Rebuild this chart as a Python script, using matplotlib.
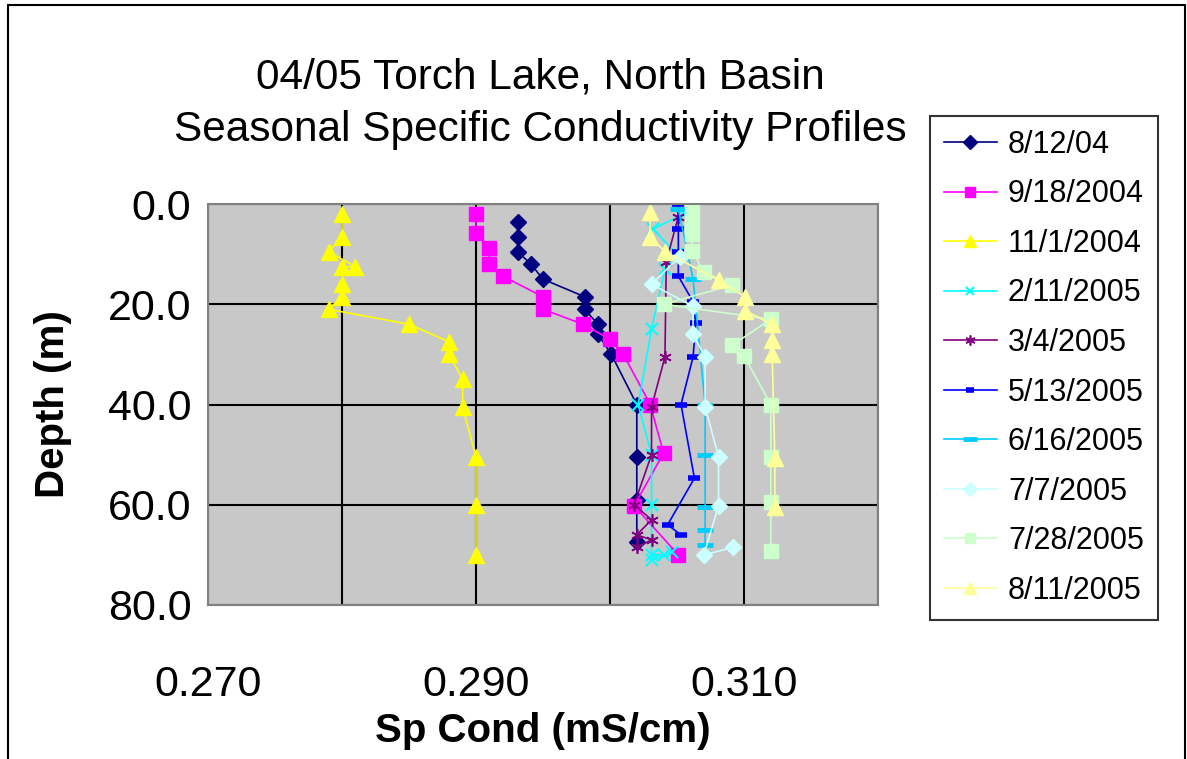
import matplotlib
matplotlib.use("Agg")
import matplotlib.pyplot as plt
from matplotlib.patches import Rectangle

plt.rcParams['font.family'] = ['Liberation Sans', 'DejaVu Sans']

# seasonal profiles: depth (m) and specific conductivity (mS/cm)
labels = ['8/12/04', '9/18/2004', '11/1/2004', '2/11/2005', '3/4/2005',
          '5/13/2005', '6/16/2005', '7/7/2005', '7/28/2005', '8/11/2005']

depth_0812 = [3.5, 6.5, 9.5, 12, 15, 18.5, 21, 24, 26, 30, 40, 50.5, 59, 67.5]
cond_0812 = [0.2931, 0.2931, 0.2931, 0.2941, 0.2950, 0.2981, 0.2981, 0.2991,
             0.2991, 0.3001, 0.3020, 0.3020, 0.3020, 0.3020]

depth_0918 = [2, 5.7, 8.7, 12, 14.4, 18.5, 21, 24, 27, 30, 40, 49.7, 60.2, 70]
cond_0918 = [0.2900, 0.2900, 0.2910, 0.2910, 0.2920, 0.2950, 0.2950, 0.2980,
             0.3000, 0.3010, 0.3030, 0.3040, 0.3018, 0.3051]

depth_1101 = [2, 6.5, 9.5, 12.5, 12.5, 16, 18.5, 21, 24, 27.5, 30, 35, 40.5, 50.5, 60, 70]
cond_1101 = [0.2800, 0.2800, 0.2790, 0.2810, 0.2800, 0.2800, 0.2800, 0.2790,
             0.2850, 0.2880, 0.2880, 0.2890, 0.2890, 0.2900, 0.2900, 0.2900]

depth_0211 = [2, 5, 10, 13, 25, 40, 50, 60, 70, 70, 69.5, 71]
cond_0211 = [0.3055, 0.3032, 0.3050, 0.3041, 0.3031, 0.3021, 0.3031, 0.3031,
             0.3031, 0.3040, 0.3046, 0.3031]

depth_0304 = [2.5, 11.5, 30.5, 40.5, 50, 60, 63, 66, 67, 68.5]
cond_0304 = [0.3051, 0.3042, 0.3041, 0.3031, 0.3031, 0.3018, 0.3031, 0.3020,
             0.3031, 0.3020]

depth_0513 = [0, 5, 9.5, 14.4, 19.5, 23.7, 30.5, 40, 54.7, 64, 66]
cond_0513 = [0.3051, 0.3051, 0.3051, 0.3051, 0.3062, 0.3064, 0.3062, 0.3053,
             0.3063, 0.3043, 0.3053]

depth_0616 = [1, 15, 40, 50, 60.4, 65, 68]
cond_0616 = [0.3051, 0.3062, 0.3071, 0.3071, 0.3071, 0.3071, 0.3071]

depth_0707 = [10.5, 16, 20.4, 26, 30.5, 40.5, 50.4, 60.2, 70, 68.5]
cond_0707 = [0.3052, 0.3031, 0.3062, 0.3062, 0.3071, 0.3071, 0.3081, 0.3081,
             0.3070, 0.3092]

depth_0728 = [0.7, 3.5, 6, 9.3, 13.5, 16.2, 20, 23, 28.2, 30.3, 40, 50.5, 59.5, 69.2]
cond_0728 = [0.3061, 0.3061, 0.3061, 0.3061, 0.3070, 0.3091, 0.3040, 0.3120,
             0.3091, 0.3100, 0.3120, 0.3120, 0.3120, 0.3120]

depth_0811 = [1.5, 6.5, 9.5, 15.2, 18.5, 21.3, 24, 27.2, 30, 50.7, 60.4]
cond_0811 = [0.3030, 0.3030, 0.3041, 0.3081, 0.3101, 0.3101, 0.3121, 0.3121,
             0.3121, 0.3123, 0.3123]

xticks = [0.27, 0.28, 0.29, 0.30, 0.31, 0.32]
xtick_labels = ['0.270', '', '0.290', '', '0.310', '']
yticks = [0, 20, 40, 60, 80]

series = [
    (cond_0812, depth_0812, '#000080', dict(marker='D', ms=8.5)),
    (cond_0918, depth_0918, '#FF00FF', dict(marker='s', ms=9.5)),
    (cond_1101, depth_1101, '#FFFF00', dict(marker='^', ms=11)),
    (cond_0211, depth_0211, '#00FFFF', dict(marker='x', ms=8, mew=1.5)),
    (cond_0304, depth_0304, '#800080', dict(marker=(6, 2, 0), ms=9, mew=1.2)),
    (cond_0513, depth_0513, '#0000FF', dict(marker='_', ms=8, mew=4)),
    (cond_0616, depth_0616, '#00CCFF', dict(marker='_', ms=12, mew=3.5)),
    (cond_0707, depth_0707, '#CCFFFF', dict(marker='D', ms=8.5)),
    (cond_0728, depth_0728, '#CCFFCC', dict(marker='s', ms=9.5)),
    (cond_0811, depth_0811, '#FFFF99', dict(marker='^', ms=11)),
]

fig = plt.figure(figsize=(11.87, 7.59), dpi=100)
ax = fig.add_axes([208 / 1187, 1 - 605 / 759, 670 / 1187, 401 / 759])
ax.set_facecolor('#c8c8c8')

for (x, y, color, mk), label in zip(series, labels):
    ax.plot(x, y, color=color, lw=1.2, label=label, mec=color, mfc=color, **mk)

ax.set_xlim(0.27, 0.32)
ax.set_ylim(80, 0)
ax.set_xticks(xticks)
ax.set_xticklabels(xtick_labels)
ax.set_yticks(yticks)
ax.set_yticklabels([f'{v:.1f}' for v in yticks])
ax.grid(True, color='black', lw=1.5)
ax.set_axisbelow(True)
ax.tick_params(axis='x', length=0, pad=43, labelsize=31)
ax.tick_params(axis='y', length=0, pad=12, labelsize=31)
for s in ax.spines.values():
    s.set_color('#808080')
    s.set_linewidth(1.5)

ax.set_xlabel('Sp Cond (mS/cm)', fontsize=29, fontweight='bold', labelpad=5)
ax.set_ylabel('Depth (m)', fontsize=29, fontweight='bold', labelpad=26)

fig.text(540 / 1187, 1 - 78 / 759, '04/05 Torch Lake, North Basin',
         ha='center', va='center', fontsize=30.5)
fig.text(540 / 1187, 1 - 130 / 759, 'Seasonal Specific Conductivity Profiles',
         ha='center', va='center', fontsize=30.5)

leg = ax.legend(loc='upper left', bbox_to_anchor=(930 / 1187, 1 - 116 / 759),
                bbox_transform=fig.transFigure, fontsize=22, frameon=True,
                fancybox=False, edgecolor='black', handlelength=1.75,
                handletextpad=0.35, labelspacing=0.64, borderaxespad=0,
                borderpad=0.45, markerscale=0.8)
leg.get_frame().set_linewidth(1.5)

# outer chart border
fig.patches.append(Rectangle((8 / 1187, -0.02), 1177 / 1187, 1.02 - 5 / 759,
                             transform=fig.transFigure, fill=False,
                             edgecolor='black', lw=1.5))

fig.savefig('out.png', dpi=100)
